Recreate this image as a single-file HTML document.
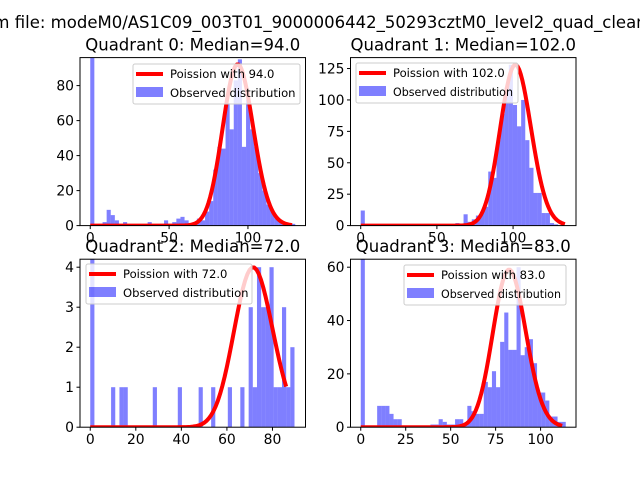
<!DOCTYPE html>
<html><head><meta charset="utf-8"><style>
html,body{margin:0;padding:0;background:#fff;}
svg{display:block;font-family:"DejaVu Sans","Liberation Sans",sans-serif;}
</style></head><body>
<svg id="fig" width="640" height="480" viewBox="0 0 640 480" xmlns="http://www.w3.org/2000/svg">
<rect width="640" height="480" fill="#fff"/>
<text id="sup" y="28" font-size="16.5" fill="#000">Histogram file: modeM0/AS1C09_003T01_9000006442_50293cztM0_level2_quad_clean.evt</text>
</svg>
<script>
// ---- data ----
const medians = [94.0, 102.0, 72.0, 83.0];
const binWidths = [2.6, 2.7, 1.83, 2.28];
const counts0 = [120,0,1,2,9,6,3,0,2,0,0,0,0,0,2,0,0,1,3,1,2,4,5,3,1,2,4,3,8,14,32,45,44,70,55,83,95,45,72,55,45,30,20,12,8,4,2,1,1,1];
const counts1 = [12,0,0,0,0,0,1,0,0,0,0,0,0,0,0,0,0,0,0,0,0,0,1,2,0,9,3,5,8,10,15,43,38,68,89,110,128,96,79,100,68,46,26,26,10,10,2,1,0,0];
const counts2 = [10,0,0,0,0,1,0,1,1,0,0,0,0,0,0,1,0,0,0,0,0,1,0,0,0,0,1,0,0,1,0,0,0,1,0,0,1,0,3,1,4,3,3,4,1,1,3,1,2];
const counts3 = [70,0,0,0,8,8,8,5,3,3,0,0,0,0,0,0,0,1,1,3,2,1,1,3,3,1,8,6,5,5,17,15,21,15,32,43,29,29,60,27,30,33,24,13,13,10,4,4,2,2];
const curveScale = [2240, 3240, 85, 1350];
const curveMax = [128, 134, 86, 112];
const xLim = [[-6.5,136.5],[-6.7,141.3],[-4.5,94.5],[-5.7,119.7]];
const yLim = [[0,96],[0,133.7],[0,4.2],[0,63]];
const xTicks = [[0,50,100],[0,50,100],[0,20,40,60,80],[0,25,50,75,100]];
const yTicks = [[0,20,40,60,80],[0,25,50,75,100,125],[0,1,2,3,4],[0,20,40,60]];
const panels = [[80,57.6],[350.5,57.6],[80,259.2],[350.5,259.2]];
const legendPos = [[133,64,167],[356,63,162],[86,264,166],[404,265,162]];
const allCounts = [counts0, counts1, counts2, counts3];
// ---------------
const NS = "http://www.w3.org/2000/svg";
const svg = document.getElementById('fig');
function mk(tag, attrs, parent){const e=document.createElementNS(NS,tag);for(const k in attrs)e.setAttribute(k,attrs[k]);(parent||svg).appendChild(e);return e;}
function lgamma(z){
  if(z<7){let p=1;while(z<7){p*=z;z+=1;}return lgamma(z)-Math.log(p);}
  return (z-0.5)*Math.log(z)-z+0.5*Math.log(2*Math.PI)+1/(12*z)-1/(360*z*z*z);
}
function pois(k,l){return Math.exp(k*Math.log(l)-l-lgamma(k+1));}
const W=225.5,H=168;
for(let p=0;p<4;p++){
  const [px,py]=panels[p];
  const xs=v=>px+(v-xLim[p][0])/(xLim[p][1]-xLim[p][0])*W;
  const ys=v=>py+H-(v-yLim[p][0])/(yLim[p][1]-yLim[p][0])*H;
  const g=mk('g',{});
  
  
  const cid='clip'+p;
  const cp=mk('clipPath',{id:cid},g); mk('rect',{x:px,y:py,width:W,height:H},cp);
  const bars=mk('g',{'clip-path':'url(#'+cid+')'},g);
  const c=allCounts[p];
  for(let i=0;i<c.length;i++){
    if(!c[i])continue;
    const x0=xs(i*binWidths[p]),x1=xs((i+1)*binWidths[p]);
    const r=mk('rect',{x:x0,y:ys(c[i]),width:x1-x0,height:ys(0)-ys(c[i]),fill:'#0000ff','fill-opacity':0.5},bars);
    
    
  }
  let d='';
  for(let k=0;k<=curveMax[p];k++){d+=(k?'L':'M')+xs(k).toFixed(2)+','+ys(curveScale[p]*pois(k,medians[p])).toFixed(2);}
  const ln=mk('path',{d:d,fill:'none',stroke:'#ff0000','stroke-width':4,'stroke-linejoin':'round','stroke-linecap':'butt'},bars);
  
  
  const fr=mk('rect',{x:px,y:py,width:W,height:H,fill:'none',stroke:'#000','stroke-width':1},g);
  
  
  xTicks[p].forEach(t=>{
    const x=xs(t);
    mk('line',{x1:x,x2:x,y1:py+H,y2:py+H+3.5,stroke:'#000'},g);
    const tx=mk('text',{x:x,y:py+H+17,'font-size':13.9,'text-anchor':'middle'},g);
    tx.textContent=t;
    
    
  });
  yTicks[p].forEach(t=>{
    const y=ys(t);
    mk('line',{x1:px-3.5,x2:px,y1:y,y2:y,stroke:'#000'},g);
    const tx=mk('text',{x:px-6,y:y+5,'font-size':13.9,'text-anchor':'end'},g);
    tx.textContent=t;
    
    
  });
  const tt=mk('text',{x:px+W/2,y:py-7,'font-size':16.5,'text-anchor':'middle'},g);
  tt.textContent='Quadrant '+p+': Median='+medians[p].toFixed(1);
  
  
  const [lx,ly,lw]=legendPos[p];
  const lg=mk('g',{},g);
  
  
  mk('rect',{x:lx,y:ly,width:lw,height:40,rx:2,fill:'#fff','fill-opacity':0.8,stroke:'#ccc','stroke-width':1},lg);
  mk('line',{x1:lx+3,x2:lx+30,y1:ly+10,y2:ly+10,stroke:'#ff0000','stroke-width':4},lg);
  const l1=mk('text',{x:lx+37,y:ly+14,'font-size':11.6,textLength:105},lg);
  l1.textContent='Poission with '+medians[p].toFixed(1);
  
  
  mk('rect',{x:lx+3,y:ly+23,width:27,height:10,fill:'#0000ff','fill-opacity':0.5},lg);
  const l2=mk('text',{x:lx+37,y:ly+33,'font-size':11.6},lg);
  l2.textContent='Observed distribution';
  
  
  const w2=l2.getComputedTextLength();
  if(lx+37+w2>lx+lw-3){l2.setAttribute('textLength',lw-42);l2.setAttribute('lengthAdjust','spacingAndGlyphs');}
  const w1=l1.getComputedTextLength();
  l1.removeAttribute('textLength');
}
const sup=document.getElementById('sup');
const pre=mk('text',{'font-size':16.5,x:0,y:-50});pre.textContent='Histogram';
const pw=pre.getComputedTextLength();
const nt=mk('text',{'font-size':16.5,x:0,y:-50});nt.textContent='n';
const nw=nt.getComputedTextLength();
nt.remove();pre.remove();
sup.setAttribute('x',(-pw+nw-1).toFixed(1));
</script>
</body></html>
